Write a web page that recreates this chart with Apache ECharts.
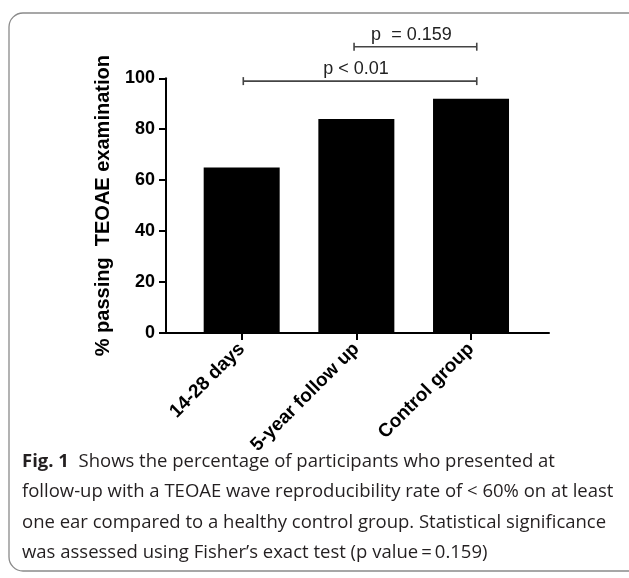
<!DOCTYPE html>
<html>
<head>
<meta charset="utf-8">
<script src="https://cdn.jsdelivr.net/npm/echarts@6/dist/echarts.min.js"></script>
<style>
html,body{margin:0;padding:0;background:#fff;}
#c{width:629px;height:578px;}
</style>
</head>
<body>
<div id="c"></div>
<script>
var categories = ['14-28 days', '5-year follow up', 'Control group'];
var categoryPositions = [1, 2, 3];
var passingPct = [65, 84, 92];
var yTicks = [0, 20, 40, 60, 80, 100];
// brackets: [from, to, height, label]
var brackets = [
  [1.014, 3.05, 98.9, 'p < 0.01'],
  [1.98, 3.05, 112.4, 'p  = 0.159']
];
var captionLines = [
  'follow-up with a TEOAE wave reproducibility rate of < 60% on at least',
  'one ear compared to a healthy control group. Statistical significance',
  'was assessed using Fisher\u2019s exact test (p value\u2009=\u20090.159)'
];

var chart = echarts.init(document.getElementById('c'), null, {renderer: 'canvas'});
var plotFont = 'Liberation Sans';
var barData = categoryPositions.map(function (x, i) { return [x, passingPct[i]]; });

chart.setOption({
  animation: false,
  grid: {left: 166, right: 80, top: 78.3, bottom: 245},
  xAxis: {
    type: 'value', min: 0.34, max: 3.68,
    splitLine: {show: false},
    axisLine: {show: true, lineStyle: {color: '#000', width: 2}},
    axisTick: {show: true, customValues: categoryPositions, length: 7, lineStyle: {color: '#000', width: 2}},
    axisLabel: {
      customValues: categoryPositions, rotate: 45, margin: 13,
      fontFamily: plotFont, fontWeight: 'bold', fontSize: 19, color: '#000',
      formatter: function (v) { var i = categoryPositions.indexOf(Math.round(v)); return i >= 0 ? categories[i] : ''; }
    }
  },
  yAxis: {
    type: 'value', min: 0, max: 100, interval: 20,
    name: '% passing  TEOAE examination', nameLocation: 'middle', nameGap: 53,
    nameTextStyle: {fontFamily: plotFont, fontWeight: 'bold', fontSize: 20, color: '#000'},
    splitLine: {show: false},
    axisLine: {show: true, lineStyle: {color: '#000', width: 2}},
    axisTick: {show: true, length: 7, lineStyle: {color: '#000', width: 2}},
    axisLabel: {margin: 11, fontFamily: plotFont, fontWeight: 'bold', fontSize: 18, color: '#000'}
  },
  series: [
    {
      type: 'bar', data: barData, barWidth: 76,
      itemStyle: {color: '#000'}
    },
    {
      type: 'custom', clip: false,
      encode: {x: [0, 1], y: 2},
      data: brackets,
      renderItem: function (params, api) {
        var p1 = api.coord([api.value(0), api.value(2)]);
        var p2 = api.coord([api.value(1), api.value(2)]);
        var item = brackets[params.dataIndex];
        var st = {stroke: '#444', lineWidth: 1.6};
        return {
          type: 'group',
          children: [
            {type: 'line', shape: {x1: p1[0], y1: p1[1], x2: p2[0], y2: p2[1]}, style: st},
            {type: 'line', shape: {x1: p1[0], y1: p1[1] - 4, x2: p1[0], y2: p1[1] + 4}, style: st},
            {type: 'line', shape: {x1: p2[0], y1: p2[1] - 4, x2: p2[0], y2: p2[1] + 4}, style: st},
            {type: 'text', x: (p1[0] + p2[0]) / 2 - 4, y: p1[1] - 12,
              style: {text: item[3], fill: '#222', font: '18px "Liberation Sans"', align: 'center', verticalAlign: 'middle'}}
          ]
        };
      }
    }
  ],
  graphic: [
    {type: 'rect', shape: {x: 9, y: 13, width: 640, height: 558, r: 14},
      style: {fill: 'none', stroke: '#8a8a8a', lineWidth: 1.3}, silent: true},
    {type: 'text', left: 22, top: 452,
      style: {
        rich: {
          b: {fontFamily: 'Open Sans', fontWeight: 'bold', fontSize: 18.5, fill: '#231f20', lineHeight: 30.5},
          n: {fontFamily: 'Open Sans', fontSize: 18.5, fill: '#231f20', lineHeight: 30.5}
        },
        text: '{b|Fig. 1}{n|  Shows the percentage of participants who presented at}\n' +
          captionLines.map(function (l) { return '{n|' + l + '}'; }).join('\n')
      }}
  ]
});
</script>
</body>
</html>
